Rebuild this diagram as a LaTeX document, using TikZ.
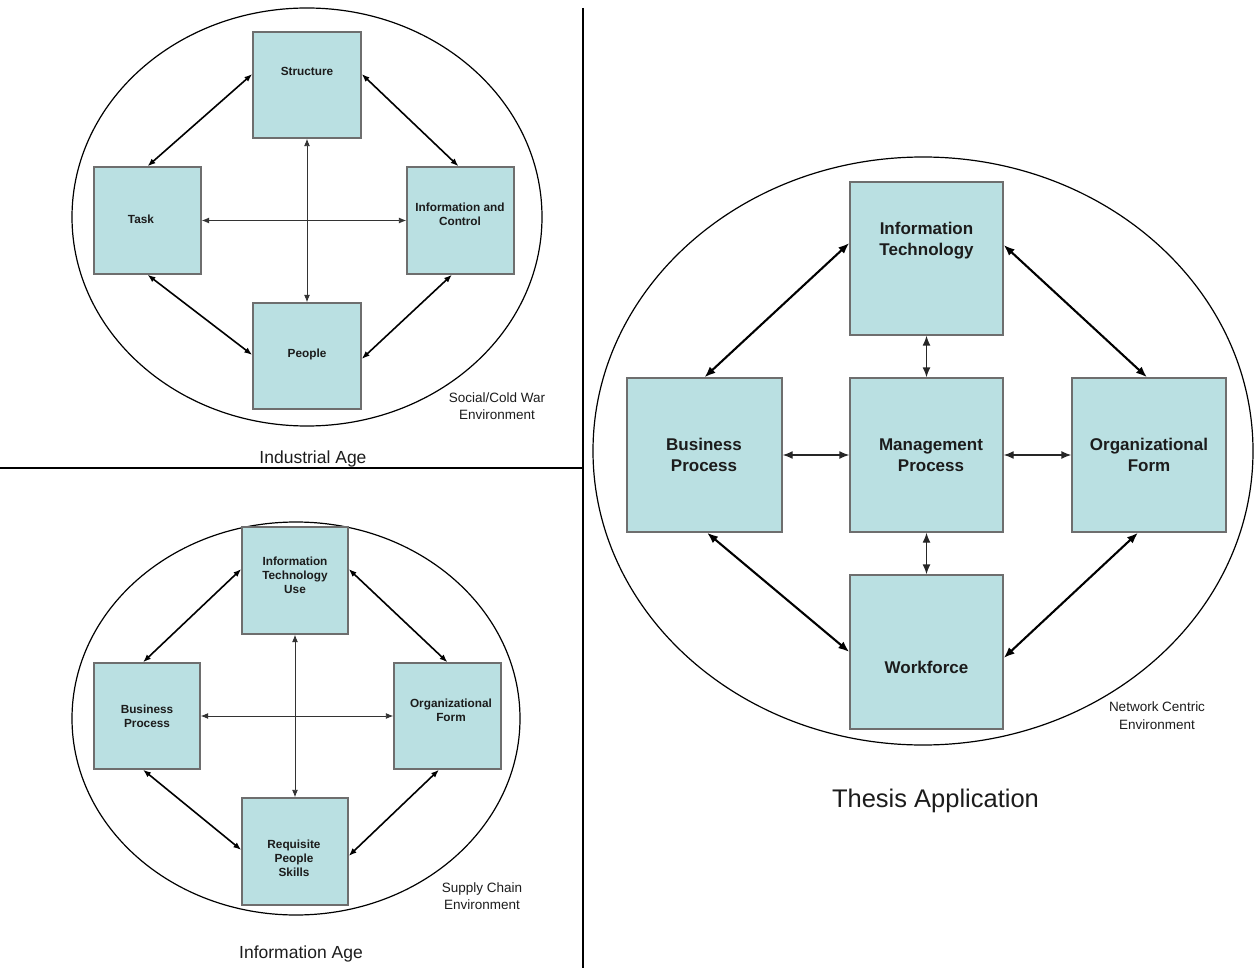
\documentclass[tikz,border=0pt]{standalone}
\usepackage{fontspec}
\setmainfont{Liberation Sans}
\usetikzlibrary{arrows.meta,shapes.geometric}
\definecolor{boxfill}{RGB}{186,224,226}
\definecolor{boxline}{RGB}{110,110,110}
\definecolor{txt}{RGB}{28,28,28}
\tikzset{
  boxa/.style={draw=boxline, fill=boxfill, line width=1.4pt, inner sep=0pt, rectangle},
  smalltxt/.style={text=txt, align=center, inner sep=0pt, font=\fontsize{11.8}{14}\selectfont\bfseries},
  bigtxt/.style={text=txt, align=center, inner sep=0pt, font=\fontsize{17}{20.5}\selectfont\bfseries},
  envtxt/.style={text=txt, align=center, inner sep=0pt, font=\fontsize{13.5}{17.5}\selectfont},
  ttla/.style={text=txt, inner sep=0pt, font=\fontsize{17.5}{21}\selectfont},
  ttlb/.style={text=txt, inner sep=0pt, font=\fontsize{25.5}{30}\selectfont},
  envell/.style={draw=black, line width=1.2pt, ellipse, inner sep=0pt},
  darr/.style={{Latex[length=8pt,width=6pt]}-{Latex[length=8pt,width=6pt]}, line width=1.6pt},
  tarr/.style={{Latex[length=7.5pt,width=6pt]}-{Latex[length=7.5pt,width=6pt]}, line width=0.9pt, draw=black!80},
  darrb/.style={{Latex[length=11pt,width=8.5pt]}-{Latex[length=11pt,width=8.5pt]}, line width=2.1pt},
  tarrb/.style={{Latex[length=10pt,width=8pt]}-{Latex[length=10pt,width=8pt]}, line width=1.4pt, draw=black!85},
  divider/.style={draw=black, line width=1.2pt}
}
\begin{document}
\begin{tikzpicture}[x=1pt,y=-1pt]
\useasboundingbox (0,0) rectangle (1256,968);

% dividers
\coordinate (hl) at (0,468);
\coordinate (hr) at (583,468);
\coordinate (vt) at (583,8);
\coordinate (vb) at (583,968);
\draw[divider] (hl) -- (hr);
\draw[divider] (vt) -- (vb);

% ---------- Panel 1: Industrial Age ----------
\node[envell, minimum width=470pt, minimum height=418pt] (e1) at (307,217) {};
\node[boxa, minimum width=108pt, minimum height=106pt] (struct) at (307,85) {};
\node[boxa, minimum width=107pt, minimum height=107pt] (task) at (147.5,220.5) {};
\node[boxa, minimum width=107pt, minimum height=107pt] (info) at (460.5,220.5) {};
\node[boxa, minimum width=108pt, minimum height=106pt] (people) at (307,356) {};
\node[smalltxt] (tstruct) at (307,71) {Structure};
\node[smalltxt] (ttask) at (141,219) {Task};
\node[smalltxt] (tinfo) at (460,214) {Information and\\Control};
\node[smalltxt] (tpeople) at (307,354) {People};
\node[envtxt] (env1) at (497,406) {Social/Cold War\\Environment};
\node[ttla] (title1) at (313,459) {Industrial Age};

\draw[darr] ([yshift=11pt]struct.west) -- (task.north);
\draw[darr] ([yshift=11pt]struct.east) -- ([xshift=-2pt]info.north);
\draw[darr] (task.south) -- ([yshift=1pt]people.west);
\draw[darr] ([xshift=-8.5pt]info.south) -- ([yshift=-3pt]people.east);
\draw[tarr] (struct.south) -- (people.north);
\draw[tarr] (task.east) -- (info.west);

% ---------- Panel 2: Information Age ----------
\node[envell, minimum width=448pt, minimum height=393pt] (e2) at (296,718.5) {};
\node[boxa, minimum width=106pt, minimum height=107pt] (itu) at (295,580.5) {};
\node[boxa, minimum width=106pt, minimum height=106pt] (bp2) at (147,716) {};
\node[boxa, minimum width=107pt, minimum height=106pt] (of2) at (447.5,716) {};
\node[boxa, minimum width=106pt, minimum height=107pt] (req) at (295,851.5) {};
\node[smalltxt] (titu) at (295,575) {Information\\Technology\\Use};
\node[smalltxt] (tbp2) at (147,716) {Business\\Process};
\node[smalltxt] (tof2) at (451,710) {Organizational\\Form};
\node[smalltxt] (treq) at (294,858) {Requisite\\People\\Skills};
\node[envtxt] (env2) at (482,896) {Supply Chain\\Environment};
\node[ttla] (title2) at (301,954) {Information Age};

\draw[darr] ([yshift=11.5pt]itu.west) -- ([xshift=-4pt]bp2.north);
\draw[darr] ([yshift=11.5pt]itu.east) -- (of2.north);
\draw[darr] ([xshift=-4pt]bp2.south) -- ([yshift=1.5pt]req.west);
\draw[darr] ([xshift=-8.5pt]of2.south) -- ([yshift=-4.5pt]req.east);
\draw[tarr] (itu.south) -- (req.north);
\draw[tarr] (bp2.east) -- (of2.west);

% ---------- Panel 3: Thesis Application ----------
\node[envell, minimum width=660pt, minimum height=588pt] (e3) at (923,451) {};
\node[boxa, minimum width=153pt, minimum height=153pt] (it) at (926.5,258.5) {};
\node[boxa, minimum width=155pt, minimum height=154pt] (bp3) at (704.5,455) {};
\node[boxa, minimum width=153pt, minimum height=154pt] (mp) at (926.5,455) {};
\node[boxa, minimum width=154pt, minimum height=154pt] (of3) at (1149,455) {};
\node[boxa, minimum width=153pt, minimum height=154pt] (wf) at (926.5,652) {};
\node[bigtxt] (tit) at (926.5,240.5) {Information\\Technology};
\node[bigtxt] (tbp3) at (704,455) {Business\\Process};
\node[bigtxt] (tmp) at (931,455) {Management\\Process};
\node[bigtxt] (tof3) at (1149,455) {Organizational\\Form};
\node[bigtxt] (twf) at (926.5,667) {Workforce};
\node[envtxt] (env3) at (1157,715.5) {Network Centric\\Environment};
\node[ttlb] (title3) at (935.5,801) {Thesis Application};

\draw[darrb] ([yshift=15.5pt]it.west) -- (bp3.north);
\draw[darrb] ([yshift=13.5pt]it.east) -- ([xshift=-2pt]of3.north);
\draw[darrb] ([xshift=2.5pt]bp3.south) -- (wf.west);
\draw[darrb] ([xshift=-11pt]of3.south) -- ([yshift=-6pt]wf.east);
\draw[tarrb] (it.south) -- (mp.north);
\draw[tarrb] (mp.south) -- (wf.north);
\draw[tarrb] (bp3.east) -- (mp.west);
\draw[tarrb] (mp.east) -- (of3.west);
\end{tikzpicture}
\end{document}
